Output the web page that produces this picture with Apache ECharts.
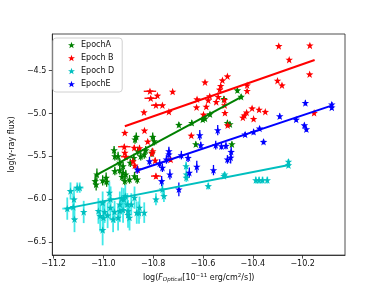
<!DOCTYPE html>
<html><head><meta charset="utf-8">
<script src="https://cdn.jsdelivr.net/npm/echarts@6/dist/echarts.min.js"></script>
<style>html,body{margin:0;padding:0;background:#fff}#c{width:384px;height:288px}</style>
</head><body><div id="c"></div>
<script>
// [x, y, xerr, yerr]
const epochA = [
[-10.462,-4.729,0,0.03],[-10.447,-4.805,0,0.03],[-10.516,-4.830,0,0.03],[-10.572,-5.009,0,0.03],
[-10.592,-5.059,0,0.03],[-10.601,-5.071,0,0.03],[-10.502,-5.110,0,0.03],[-10.492,-5.125,0,0.03],
[-10.629,-5.359,0,0.03],[-10.484,-5.359,0,0.03],[-10.697,-5.133,0,0.03],[-10.645,-5.110,0,0.03],
[-10.868,-5.273,0,0.05],[-10.873,-5.304,0,0.05],[-10.802,-5.273,0,0.05],[-10.796,-5.324,0,0.05],
[-10.957,-5.429,0,0.05],[-10.941,-5.499,0,0.05],[-10.805,-5.459,0,0.05],[-10.862,-5.440,0,0.05],
[-10.836,-5.479,0,0.05],[-10.892,-5.576,0,0.05],[-10.878,-5.520,0,0.05],[-10.934,-5.576,0,0.05],
[-10.921,-5.615,0,0.05],[-10.921,-5.692,0,0.05],[-10.910,-5.712,0,0.05],[-10.914,-5.790,0,0.05],
[-10.875,-5.732,0,0.05],[-10.954,-5.673,0,0.05],[-10.934,-5.662,0,0.05],[-10.895,-5.770,0,0.05],
[-10.864,-5.770,0,0.05],[-10.925,-5.740,0,0.05],[-10.954,-5.499,0,0.05],[-11.026,-5.712,0,0.07],
[-11.033,-5.790,0,0.07],[-11.029,-5.830,0,0.07],[-11.003,-5.782,0,0.06],[-10.989,-5.751,0,0.06],
[-10.987,-5.797,0,0.06],[-10.830,-5.430,0,0.05],[-10.850,-5.500,0,0.05]
];
const epochB = [
[-10.296,-4.212,0,0.02],[-10.171,-4.205,0,0.02],[-10.254,-4.372,0,0.02],[-10.172,-4.543,0,0.02],
[-10.301,-4.617,0,0.02],[-10.283,-4.671,0,0.02],[-10.154,-4.993,0,0.02],[-10.502,-4.566,0,0.02],
[-10.522,-4.613,0,0.02],[-10.592,-4.636,0,0.02],[-10.529,-4.678,0,0.02],[-10.533,-4.721,0,0.02],
[-10.539,-4.807,0,0.02],[-10.573,-4.799,0,0.02],[-10.624,-4.834,0,0.02],[-10.423,-4.671,0,0.02],
[-10.423,-4.737,0,0.02],[-10.514,-4.842,0,0.02],[-10.547,-4.865,0,0.02],[-10.579,-4.846,0,0.02],
[-10.626,-4.928,0,0.02],[-10.587,-4.920,0,0.02],[-10.513,-4.904,0,0.02],[-10.512,-4.993,0,0.02],
[-10.598,-5.013,0,0.02],[-10.403,-4.940,0,0.02],[-10.375,-4.955,0,0.02],[-10.350,-4.981,0,0.02],
[-10.425,-4.989,0,0.02],[-10.434,-5.024,0,0.02],[-10.440,-5.048,0,0.02],[-10.397,-5.063,0,0.02],
[-10.501,-5.138,0,0.02],[-10.647,-5.258,0,0.02],[-10.813,-4.741,0.025,0.02],[-10.783,-4.791,0,0.02],
[-10.810,-4.823,0.025,0.02],[-10.722,-4.745,0,0.02],[-10.789,-4.904,0.02,0.02],[-10.763,-4.904,0,0.02],
[-10.737,-4.981,0,0.02],[-10.837,-4.986,0,0.02],[-10.914,-5.226,0,0.02],[-10.835,-5.199,0,0.02],
[-10.822,-5.328,0,0.02],[-10.916,-5.389,0.025,0.03],[-10.876,-5.401,0,0.03],[-10.855,-5.405,0,0.03],
[-10.914,-5.459,0,0.03],[-10.802,-5.440,0,0.03],[-10.910,-5.506,0.02,0.03],[-10.881,-5.557,0,0.03],
[-10.862,-5.654,0,0.04],[-10.789,-5.732,0.02,0.03],[-10.730,-5.537,0,0.03],[-10.805,-5.467,0,0.03],
[-10.792,-5.549,0,0.03],[-10.874,-5.607,0,0.03]
];
const epochD = [
[-11.145,-6.112,0.02,0.13],[-11.132,-5.906,0,0.1],[-11.118,-6.003,0,0.13],[-11.121,-6.093,0,0.15],
[-11.116,-6.237,0,0.15],[-11.105,-5.867,0.015,0.06],[-11.095,-5.867,0.015,0.06],[-11.079,-6.151,0,0.13],
[-11.003,-6.361,0,0.18],[-11.020,-6.139,0,0.15],[-11.013,-6.198,0,0.18],[-11.003,-6.042,0,0.13],
[-11.000,-6.217,0,0.18],[-10.995,-6.150,0,0.13],[-10.976,-5.926,0,0.13],[-10.971,-6.003,0,0.15],
[-10.972,-6.100,0,0.15],[-10.983,-6.190,0,0.15],[-10.961,-6.237,0,0.15],[-10.955,-6.150,0,0.13],
[-10.941,-6.217,0,0.15],[-10.934,-6.062,0,0.15],[-10.934,-6.140,0,0.13],[-10.926,-5.996,0,0.13],
[-10.918,-6.003,0,0.13],[-10.912,-5.965,0,0.13],[-10.904,-6.062,0,0.13],[-10.921,-6.127,0,0.15],
[-10.901,-6.140,0,0.13],[-10.901,-6.186,0,0.15],[-10.888,-6.062,0,0.13],[-10.895,-6.217,0,0.15],
[-10.875,-5.984,0,0.13],[-10.866,-6.159,0,0.13],[-10.855,-6.101,0,0.13],[-10.857,-6.159,0,0.13],
[-10.836,-6.159,0,0.12],[-10.789,-6.003,0,0.07],[-10.757,-5.965,0,0.07],[-10.763,-5.887,0,0.07],
[-10.668,-5.615,0,0.05],[-10.667,-5.712,0,0.05],[-10.667,-5.751,0,0.05],[-10.579,-5.848,0,0.04],
[-10.513,-5.712,0,0.03],[-10.516,-5.730,0,0.03],[-10.388,-5.779,0,0.04],[-10.375,-5.779,0,0.04],
[-10.361,-5.779,0,0.04],[-10.342,-5.779,0,0.04],[-10.257,-5.564,0,0.03],[-10.257,-5.604,0,0.03]
];
const epochE = [
[-10.083,-4.895,0,0.03],[-10.083,-4.930,0,0.03],[-10.189,-4.877,0,0.03],[-10.292,-5.032,0,0.03],
[-10.226,-5.071,0,0.03],[-10.193,-5.138,0,0.03],[-10.185,-5.184,0,0.03],[-10.373,-5.176,0,0.03],
[-10.397,-5.215,0,0.03],[-10.431,-5.246,0,0.03],[-10.357,-5.331,0,0.03],[-10.541,-5.196,0,0.06],
[-10.613,-5.254,0,0.06],[-10.609,-5.370,0,0.04],[-10.549,-5.370,0,0.05],[-10.526,-5.382,0,0.04],
[-10.508,-5.378,0,0.04],[-10.487,-5.448,0,0.06],[-10.502,-5.537,0,0.05],[-10.489,-5.515,0,0.07],
[-10.558,-5.662,0,0.06],[-10.625,-5.622,0,0.07],[-10.737,-5.440,0,0.05],[-10.737,-5.479,0,0.05],
[-10.747,-5.537,0,0.05],[-10.687,-5.487,0,0.05],[-10.660,-5.518,0,0.05],[-10.815,-5.557,0,0.05],
[-10.774,-5.584,0,0.05],[-10.763,-5.634,0,0.05],[-10.733,-5.712,0,0.06],[-10.766,-5.790,0,0.06],
[-10.697,-5.887,0,0.08],[-10.864,-5.654,0,0.05],[-10.655,-5.692,0,0.06]
];
const fitA = [[-11.033,-5.726],[-10.440,-4.797]];
const fitB = [[-10.914,-5.149],[-10.152,-4.376]];
const fitD = [[-11.151,-6.112],[-10.250,-5.600]];
const fitE = [[-10.866,-5.670],[-10.081,-4.906]];
const xTicks = [-11.2,-11.0,-10.8,-10.6,-10.4,-10.2];
const yTicks = [-6.5,-6.0,-5.5,-5.0,-4.5];
const names = ['EpochA','Epoch B','Epoch D','EpochE'];

const colors = ['#008000','#ff0000','#00bfbf','#0000ff'];
const errColors = ['#008000','#ff0000','#40e8e8','#0000ff'];
const STAR = 'path://M0,-10L2.35,-3.24L9.51,-3.09L3.8,1.24L5.88,8.09L0,4L-5.88,8.09L-3.8,1.24L-9.51,-3.09L-2.35,-3.24Z';
const fmt = v => v.toFixed(1).replace('-', '\u2212');

function errSeries(data, color, lw){
  return {
    type:'custom', data:data, z:1, silent:true,
    encode:{x:0,y:1},
    renderItem:function(params, api){
      const x=api.value(0), y=api.value(1), xe=api.value(2), ye=api.value(3);
      const ch=[];
      if(ye>0){const a=api.coord([x,y-ye]), b=api.coord([x,y+ye]);
        ch.push({type:'line',shape:{x1:a[0],y1:a[1],x2:b[0],y2:b[1]},style:{stroke:color,lineWidth:lw}});}
      if(xe>0){const a=api.coord([x-xe,y]), b=api.coord([x+xe,y]);
        ch.push({type:'line',shape:{x1:a[0],y1:a[1],x2:b[0],y2:b[1]},style:{stroke:color,lineWidth:lw}});}
      return {type:'group',children:ch};
    }
  };
}
const datasets=[epochA,epochB,epochD,epochE];
const fits=[fitA,fitB,fitD,fitE];
const series=[];
datasets.forEach((d,i)=>{
  series.push(errSeries(d, errColors[i], i===2?1.8:1.3));
});
datasets.forEach((d,i)=>{
  series.push({name:names[i], type:'scatter', data:d.map(p=>[p[0],p[1]]), symbol:STAR, symbolSize:7.5,
    itemStyle:{color:colors[i], opacity:1}, z:3});
});
fits.forEach((f,i)=>{
  series.push({type:'line', data:f, showSymbol:false, symbol:'none', lineStyle:{color:colors[i],width:2}, z:5, silent:true});
});

const chart = echarts.init(document.getElementById('c'), null, {renderer:'canvas'});
chart.setOption({
  animation:false,
  textStyle:{fontFamily:'DejaVu Sans'},
  grid:{left:48,right:39,top:34,bottom:32,show:true,borderColor:'#222',borderWidth:0.8,backgroundColor:'transparent'},
  legend:{
    data:names.map((n,i)=>({name:n,icon:STAR,itemStyle:{color:colors[i]}})),
    orient:'vertical', left:53, top:38, itemWidth:7, itemHeight:7, itemGap:3,
    padding:[2,8,3,15], borderColor:'#d0d0d0', borderWidth:1, borderRadius:3,
    backgroundColor:'rgba(255,255,255,0.8)',
    textStyle:{fontSize:8, color:'#111', fontFamily:'DejaVu Sans', lineHeight:10, padding:[0,0,0,1]}
  },
  xAxis:{
    type:'value', min:-11.205, max:-10.03,
    axisLine:{show:true,onZero:false,lineStyle:{color:'#222',width:0.8}},
    axisTick:{show:true,inside:false,length:3.5,lineStyle:{color:'#222',width:0.8},customValues:xTicks},
    axisLabel:{customValues:xTicks, formatter:fmt, fontSize:8, color:'#111', margin:5, fontFamily:'DejaVu Sans'},
    splitLine:{show:false},
    name:'log({i|F}{sub|Optical}[10{sup|\u221211} erg/cm{sup|2}/s])',
    nameLocation:'middle', nameGap:15,
    nameTextStyle:{fontSize:8,color:'#111',fontFamily:'DejaVu Sans',
      rich:{i:{fontSize:8,fontStyle:'italic',color:'#111',fontFamily:'DejaVu Sans'},
            sub:{fontSize:5.5,fontStyle:'italic',color:'#111',verticalAlign:'bottom',padding:[4,0,0,0],fontFamily:'DejaVu Sans'},
            sup:{fontSize:5.5,color:'#111',verticalAlign:'top',padding:[0,0,4,0],fontFamily:'DejaVu Sans'}}}
  },
  yAxis:{
    type:'value', min:-6.655, max:-4.072,
    axisLine:{show:true,onZero:false,lineStyle:{color:'#222',width:0.8}},
    axisTick:{show:true,inside:false,length:3.5,lineStyle:{color:'#222',width:0.8},customValues:yTicks},
    axisLabel:{customValues:yTicks, formatter:fmt, fontSize:8, color:'#111', margin:6, fontFamily:'DejaVu Sans'},
    splitLine:{show:false},
    name:'log(\u03b3-ray flux)', nameLocation:'middle', nameGap:31,
    nameTextStyle:{fontSize:8,color:'#111',fontFamily:'DejaVu Sans'}
  },
  series:series
});
</script></body></html>
